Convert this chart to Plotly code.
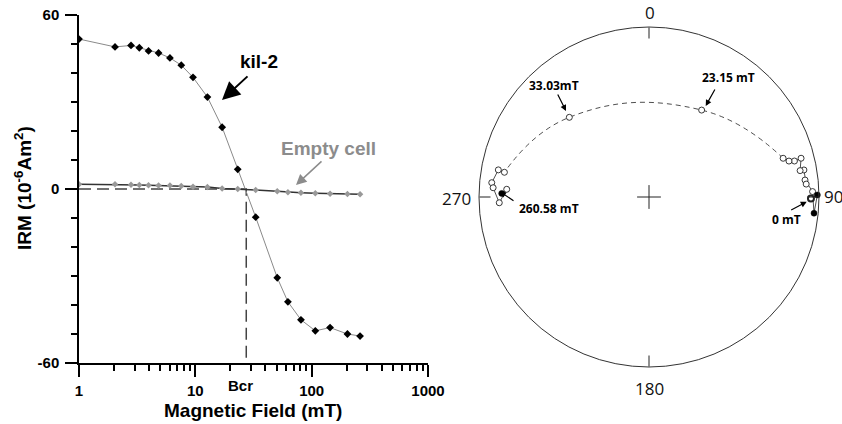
import numpy as np
import plotly.graph_objects as go

# ---------------- Left panel: IRM back-field curve ----------------
field_mT = [1, 2.04, 2.8, 3.3, 3.96, 4.83, 6.05, 7.57, 9.55, 12.7, 17.0, 23.15,
            33.03, 50.6, 62.5, 80.9, 107.5, 143.9, 203, 260.58]
kil2_irm = [51.7, 49.0, 49.5, 48.7, 47.6, 46.9, 45.2, 42.7, 38.5, 31.7, 21.3, 6.8,
            -9.7, -30.6, -38.9, -45.1, -48.9, -47.8, -50.0, -50.7]
empty_irm = [1.6, 1.6, 1.5, 1.4, 1.3, 1.2, 1.2, 1.0, 0.8, 0.7, 0.2, 0.0,
             -0.35, -0.8, -1.1, -1.3, -1.5, -1.6, -1.7, -1.85]
bcr_mT = 27.4
y_ticks = [-60, 0, 60]
y_tick_labels = ["-60", "0", "60"]
x_ticks = [1, 10, 100, 1000]
x_tick_labels = ["1", "10", "100", "1000"]

# ---------------- Right panel: equal-area stereonet ----------------
step_mT = [0, 1, 2, 2.8, 3.3, 4, 4.8, 6, 7.6, 9.5, 12.7, 17, 23.15, 33.03,
           50, 62, 81, 107, 144, 203, 260.58]
dec_deg = [90.5, 89.3, 95.6, 88.1, 83.8, 85.3, 80.1, 80.1, 75.7, 76.1, 75.6, 73.9,
           31.2, 315.0, 279.7, 280.2, 275.2, 273.4, 267.8, 273.1, 271.4]
inc_deg = [-5.3, 1.1, 2.8, -4.2, -8.5, -8.0, -8.3, -10.7, -8.5, -12.9, -16.1, -19.0,
           -40.0, -34.1, -14.8, -10.9, -7.9, -9.0, -12.9, -17.3, 14.4]
compass_vals = [0, 90, 180, 270]
compass_text = ["0", "90", "180", "270"]

W, H = 842, 424
def px(x):
    return x / W
def py(y):
    return 1 - y / H

LFONT = "Liberation Sans, Arial, sans-serif"
RFONT = "Open Sans, Noto Sans, sans-serif"

# equal-area projection radius (1 = primitive circle)
inc_arr = np.array(inc_deg)
r_ea = np.sqrt(2) * np.sin(np.radians(90 - np.abs(inc_arr)) / 2)
dec_arr = np.array(dec_deg)
steps = np.array(step_mT)

fig = go.Figure()

# dashed Bcr construction lines
fig.add_trace(go.Scatter(x=[1, bcr_mT, bcr_mT], y=[0, 0, -60], mode="lines",
                         line=dict(color="#444", width=1.5, dash="12px,6px"),
                         showlegend=False, hoverinfo="skip"))
# kil-2
fig.add_trace(go.Scatter(x=field_mT, y=kil2_irm, mode="lines+markers",
                         line=dict(color="#8a8a8a", width=1),
                         marker=dict(symbol="diamond", size=6, color="black"),
                         showlegend=False))
# empty cell
fig.add_trace(go.Scatter(x=field_mT, y=empty_irm, mode="lines+markers",
                         line=dict(color="#333", width=1.5),
                         marker=dict(symbol="diamond", size=5, color="#999"),
                         showlegend=False))

# stereonet lines
seg1 = slice(0, 12)
seg2 = slice(11, 15)
seg3 = slice(14, 21)
for sl, dash, shape in [(seg1, "solid", "linear"), (seg2, "5px,4px", "spline"), (seg3, "solid", "linear")]:
    fig.add_trace(go.Scatterpolar(r=r_ea[sl], theta=dec_arr[sl], mode="lines",
                                  line=dict(color="#222", width=0.8, dash=dash, shape=shape, smoothing=1.3),
                                  subplot="polar", showlegend=False, hoverinfo="skip"))
up = inc_arr < 0
open_lw = np.where(steps[up] == 0, 2.0, 0.9)
fig.add_trace(go.Scatterpolar(r=r_ea[up], theta=dec_arr[up], mode="markers",
                              marker=dict(symbol="circle", size=6, color="white",
                                          line=dict(color="#222", width=open_lw)),
                              subplot="polar", showlegend=False))
fig.add_trace(go.Scatterpolar(r=r_ea[~up], theta=dec_arr[~up], mode="markers",
                              marker=dict(symbol="circle", size=6, color="black",
                                          line=dict(color="black", width=0.5)),
                              subplot="polar", showlegend=False))
# center cross
fig.add_trace(go.Scatterpolar(r=[0], theta=[0], mode="markers",
                              marker=dict(symbol="cross-thin", size=17,
                                          line=dict(color="#222", width=1)),
                              subplot="polar", showlegend=False, hoverinfo="skip"))

fig.update_layout(
    width=W, height=H,
    margin=dict(l=0, r=0, t=0, b=0),
    paper_bgcolor="white", plot_bgcolor="white",
    xaxis=dict(type="log", range=[0, 3], domain=[px(79), px(428)],
               tickvals=x_ticks, ticktext=x_tick_labels, ticklabelstandoff=1,
               ticks="outside", ticklen=12, tickwidth=1.5, tickcolor="black",
               showline=True, linecolor="black", linewidth=1.5,
               showgrid=False, zeroline=False, automargin=False,
               tickfont=dict(family=LFONT, size=15, color="black", weight="bold"),
               minor=dict(tickvals=[2, 3, 4, 5, 6, 7, 8, 9, 20, 30, 40, 50, 60, 70, 80, 90,
                                    200, 300, 400, 500, 600, 700, 800, 900],
                          ticks="outside", ticklen=6, tickwidth=1.5, tickcolor="black",
                          showgrid=False)),
    yaxis=dict(range=[-60, 60], domain=[py(363), py(15)],
               tickvals=y_ticks, ticktext=y_tick_labels, ticklabelstandoff=3,
               ticks="outside", ticklen=12, tickwidth=1.5, tickcolor="black",
               showline=True, linecolor="black", linewidth=1.5,
               showgrid=False, zeroline=False, automargin=False,
               tickfont=dict(family=LFONT, size=15, color="black", weight="bold"),
               minor=dict(dtick=10, tick0=0, ticks="outside", ticklen=6, tickwidth=1.5,
                          tickcolor="black", showgrid=False)),
    polar=dict(domain=dict(x=[px(479), px(819)], y=[py(367), py(27)]),
               bgcolor="white",
               radialaxis=dict(visible=False, range=[0, 1]),
               angularaxis=dict(rotation=90, direction="clockwise",
                                tickvals=compass_vals, showticklabels=False,
                                ticks="inside", ticklen=11, tickwidth=1, tickcolor="#222",
                                showgrid=False, showline=True, linecolor="#333", linewidth=1)),
)

def label(text, x, y, size, color="black", family=LFONT, weight="bold", angle=0, xanchor="center"):
    return dict(text=text, x=px(x), y=py(y), xref="paper", yref="paper", showarrow=False,
                xanchor=xanchor, yanchor="middle", textangle=angle,
                font=dict(family=family, size=size, color=color, weight=weight))

def arrow(tip_x, tip_y, dx, dy, size, width, color="black"):
    return dict(text="", x=px(tip_x), y=py(tip_y), xref="paper", yref="paper", showarrow=True,
                ax=dx, ay=dy, arrowhead=2, arrowsize=size, arrowwidth=width, arrowcolor=color)

ann = []
ann.append(label("Magnetic Field (mT)", 253, 410, 19))
ann.append(label("IRM (10<sup>-6</sup>Am<sup>2</sup>)", 23, 188, 19, angle=-90))
ann.append(label("Bcr", 240, 385, 15))
ann.append(label("kil-2", 259, 61, 19))
ann.append(arrow(222, 100, 27, -25, 1.8, 2))
ann.append(label("Empty cell", 328, 148, 19, color="#8c8c8c"))
ann.append(arrow(296, 185, 27, -25, 1.4, 1.5, color="#8c8c8c"))
# compass labels of the stereonet
compass_pos = [(649.5, 12.5, "center"), (822, 197, "left"), (649, 388.5, "center"), (473, 198, "right")]
for txt, (cx, cy, anc) in zip(compass_text, compass_pos):
    ann.append(label(txt, cx, cy, 17, color="#111", family=RFONT, weight="normal", xanchor=anc))
stereo_labels = [("23.15 mT", 728, 77, 705.7, 106, 10, -18),
                 ("33.03mT", 553.5, 85, 566, 111, -9, -18),
                 ("260.58 mT", 548.5, 208, 500, 191.7, 15, 10),
                 ("0 mT", 786, 219, 806.7, 201.7, -17, 9)]
for txt, tx, ty, ax_, ay_, dx, dy in stereo_labels:
    ann.append(label(txt, tx, ty, 12, family=RFONT))
    ann.append(arrow(ax_, ay_, dx, dy, 1, 1.2))
fig.update_layout(annotations=ann)

fig.write_html("out.html", config={"displayModeBar": False},
               post_script="document.body.style.margin='0px';document.body.style.overflow='hidden';")
